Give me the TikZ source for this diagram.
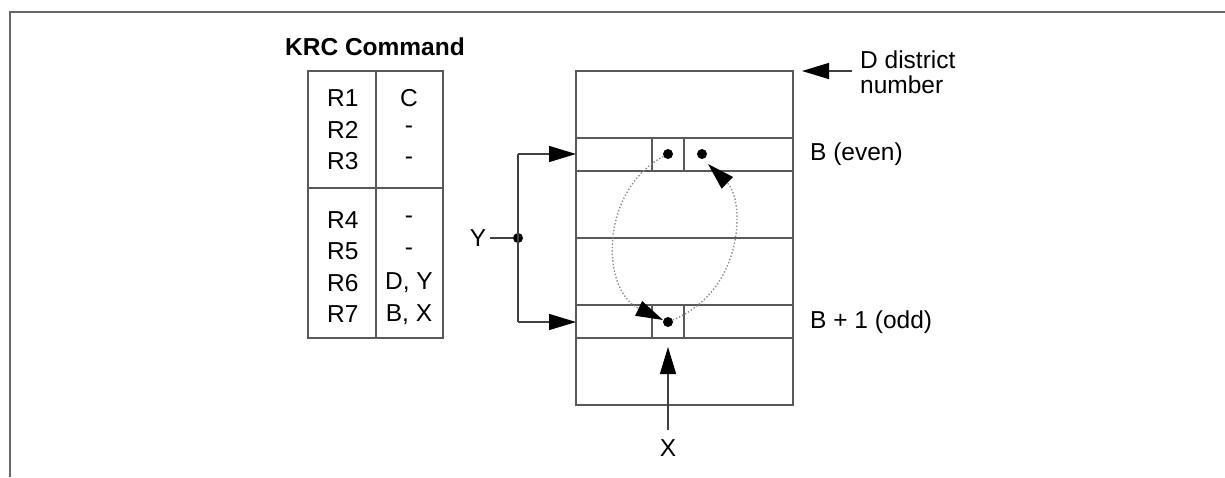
\documentclass[tikz,border=0pt]{standalone}
\usepackage{fontspec}
\setmainfont{Liberation Sans}
\usetikzlibrary{arrows.meta}
\begin{document}
\begin{tikzpicture}[x=1pt,y=-1pt,
  ln/.style={draw=black!65,line width=1.6pt},
  frm/.style={draw=black!60,line width=2pt},
  txt/.style={inner sep=0pt,font=\fontsize{24.5}{28}\selectfont},
  dot/.style={circle,fill=black,inner sep=0pt,minimum size=10pt},
  big/.style={draw=black!75,line width=1.4pt,-{Triangle[length=27pt,width=16pt,color=black,fill=black]}},
  loop/.style={draw=black!45,line width=1.4pt,dotted,-{Triangle[length=27pt,width=16pt,color=black,fill=black]}}]
\useasboundingbox (0,0) rectangle (1225,477);
% frame
\draw[frm] (10,477) -- (10,12) -- (1225,12);
% KRC table
\node[txt,font=\fontsize{24.5}{28}\selectfont\bfseries] (title) at (375,47) {KRC Command};
\draw[ln] (308,71) rectangle (443,338);
\draw[ln] (376,71) -- (376,338);
\draw[ln] (308,188) -- (443,188);
\node[txt,anchor=west] (r1) at (327,98) {R1};
\node[txt,anchor=west] (r2) at (327,129.5) {R2};
\node[txt,anchor=west] (r3) at (327,161) {R3};
\node[txt,anchor=west] (r4) at (327,220) {R4};
\node[txt,anchor=west] (r5) at (327,251.5) {R5};
\node[txt,anchor=west] (r6) at (327,283) {R6};
\node[txt,anchor=west] (r7) at (327,314.5) {R7};
\node[txt] (v1) at (409,98) {C};
\node[txt] (v2) at (409,129.5) {-};
\node[txt] (v3) at (409,161) {-};
\node[txt] (v4) at (409,220) {-};
\node[txt] (v5) at (409,251.5) {-};
\node[txt] (v6) at (409,283) {D, Y};
\node[txt] (v7) at (409,314.5) {B, X};
% district block
\draw[ln] (576,71) rectangle (793,405);
\foreach \y in {138,171,238,305,338} \draw[ln] (576,\y) -- (793,\y);
\draw[ln] (652,138) -- (652,171);
\draw[ln] (684,138) -- (684,171);
\draw[ln] (652,305) -- (652,338);
\draw[ln] (684,305) -- (684,338);
\coordinate (blk) at (576,154);
\coordinate (blk1) at (576,322);
\coordinate (top) at (802,71);
\coordinate (bot) at (668,347);
\node[dot] (dB) at (668,154) {};
\node[dot] (dB2) at (702,154) {};
\node[dot] (dO) at (668,322) {};
% D district
\coordinate (dstart) at (852,71);
\node[txt,anchor=west,align=left] (dd) at (860,72) {D district\\[-3pt]number};
\draw[big] (dstart) -- (top);
\node[txt,anchor=west] (be) at (810,154) {B (even)};
\node[txt,anchor=west] (bo) at (810,322) {B + 1 (odd)};
% Y bracket
\node[txt] (Y) at (478,238) {Y};
\node[dot] (yj) at (518,238) {};
\coordinate (yt) at (518,154);
\coordinate (yb) at (518,322);
\draw[big,-] (Y.east) ++(4pt,0) -- (yj);
\draw[big,-] (yt) -- (yb);
\draw[big] (yt) -- (blk);
\draw[big] (yb) -- (blk1);
% X
\node[txt] (X) at (668,448) {X};
\draw[big] (668,430) -- (bot);
% dotted swaps
\draw[loop] (dB) .. controls (600,190) and (600,290) .. (663,320);
\draw[loop] (dO) .. controls (745,290) and (745,200) .. (708,164);
\end{tikzpicture}
\end{document}
